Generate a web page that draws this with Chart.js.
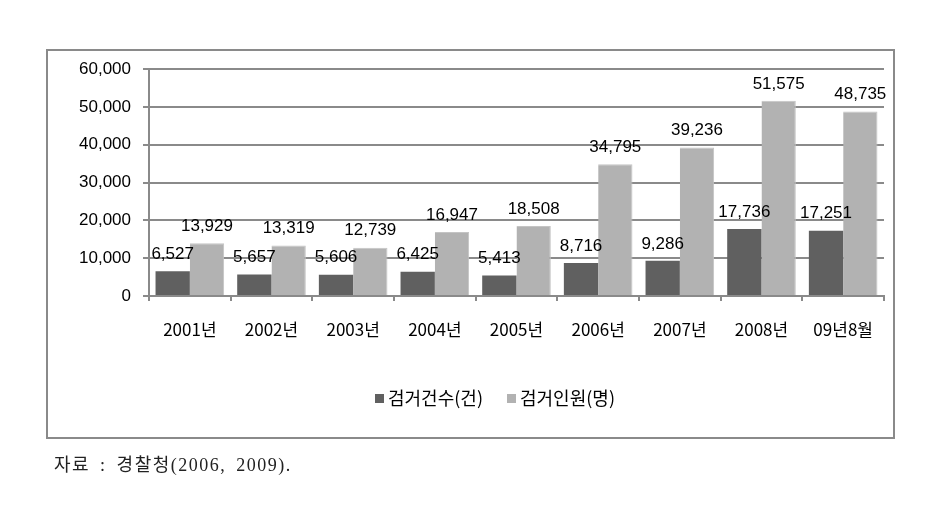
<!DOCTYPE html>
<html>
<head>
<meta charset="utf-8">
<script src="https://cdn.jsdelivr.net/npm/chart.js@4"></script>
<style>
    body { margin: 0; background: #fff; }
    #wrap { position: relative; width: 927px; height: 506px; }
    #frame { position: absolute; left: 46px; top: 49px; width: 845px; height: 386px; border: 2px solid #8a8a8a; }
    canvas { position: absolute; left: 0; top: 0; }
    .legend { position: absolute; top: 385px; font: 18px "Noto Sans CJK KR", sans-serif; color: #000; line-height: 24px; }
    .legend span { display: inline-block; width: 9px; height: 9px; margin-right: 4px; vertical-align: 2px; }
    #source { position: absolute; left: 54px; top: 450px; font: 18px "Liberation Serif", "Noto Sans CJK KR", serif; letter-spacing: 1.5px; word-spacing: 4px; color: #222; }
</style>
</head>
<body>
<div id="wrap">
    <div id="frame"></div>
    <canvas id="chart" width="927" height="506"></canvas>
    <div class="legend" style="left: 375px;"><span style="background: #606060;"></span>검거건수(건)</div>
    <div class="legend" style="left: 507px;"><span style="background: #b2b2b2;"></span>검거인원(명)</div>
    <div id="source">자료 : 경찰청(2006, 2009).</div>
</div>
<script>
    // Data
    const years = ['2001년', '2002년', '2003년', '2004년', '2005년', '2006년', '2007년', '2008년', '09년8월'];
    const cases = [6527, 5657, 5606, 6425, 5413, 8716, 9286, 17736, 17251];
    const people = [13929, 13319, 12739, 16947, 18508, 34795, 39236, 51575, 48735];
    const yTicks = [0, 10000, 20000, 30000, 40000, 50000, 60000];

    const labelFont = '17px "Liberation Sans", Arial, sans-serif';

    // Value labels above each bar
    const barLabels = {
        id: 'barLabels',
        afterDatasetsDraw(chart) {
            const ctx = chart.ctx;
            ctx.save();
            ctx.font = labelFont;
            ctx.fillStyle = '#000';
            ctx.textAlign = 'center';
            ctx.textBaseline = 'middle';
            chart.data.datasets.forEach((ds, i) => {
                chart.getDatasetMeta(i).data.forEach((bar, j) => {
                    ctx.fillText(ds.data[j].toLocaleString('en-US'), bar.x, bar.y - 17);
                });
            });
            ctx.restore();
        }
    };

    new Chart(document.getElementById('chart'), {
        type: 'bar',
        data: {
            labels: years,
            datasets: [
                { label: '검거건수(건)', data: cases, backgroundColor: '#606060' },
                { label: '검거인원(명)', data: people, backgroundColor: '#b2b2b2', borderColor: '#c4c4c4', borderWidth: { top: 1, left: 0, right: 1, bottom: 0 } }
            ]
        },
        options: {
            responsive: false,
            animation: false,
            categoryPercentage: 0.84,
            barPercentage: 1,
            layout: {
                padding: { left: 60, right: 43, top: 69, bottom: 160 }
            },
            plugins: {
                legend: { display: false },
                tooltip: { enabled: false }
            },
            scales: {
                x: {
                    grid: { offset: true, drawOnChartArea: false, color: '#8a8a8a', lineWidth: 2, tickLength: 5 },
                    border: { color: '#8a8a8a', width: 2 },
                    ticks: { color: '#000', font: { family: '"Noto Sans CJK KR", sans-serif', size: 17 }, padding: 18, maxRotation: 0 },
                    afterFit(scale) { scale.height = 50; }
                },
                y: {
                    min: 0,
                    max: 60000,
                    afterBuildTicks(scale) { scale.ticks = yTicks.map((v) => ({ value: v })); },
                    grid: { color: '#8a8a8a', lineWidth: 2, tickLength: 6 },
                    border: { color: '#8a8a8a', width: 2 },
                    ticks: {
                        color: '#000',
                        font: { family: '"Liberation Sans", Arial, sans-serif', size: 17 },
                        padding: 12,
                        callback: (v) => v.toLocaleString('en-US')
                    },
                    afterFit(scale) { scale.width = 89; }
                }
            }
        },
        plugins: [barLabels]
    });
</script>
</body>
</html>
